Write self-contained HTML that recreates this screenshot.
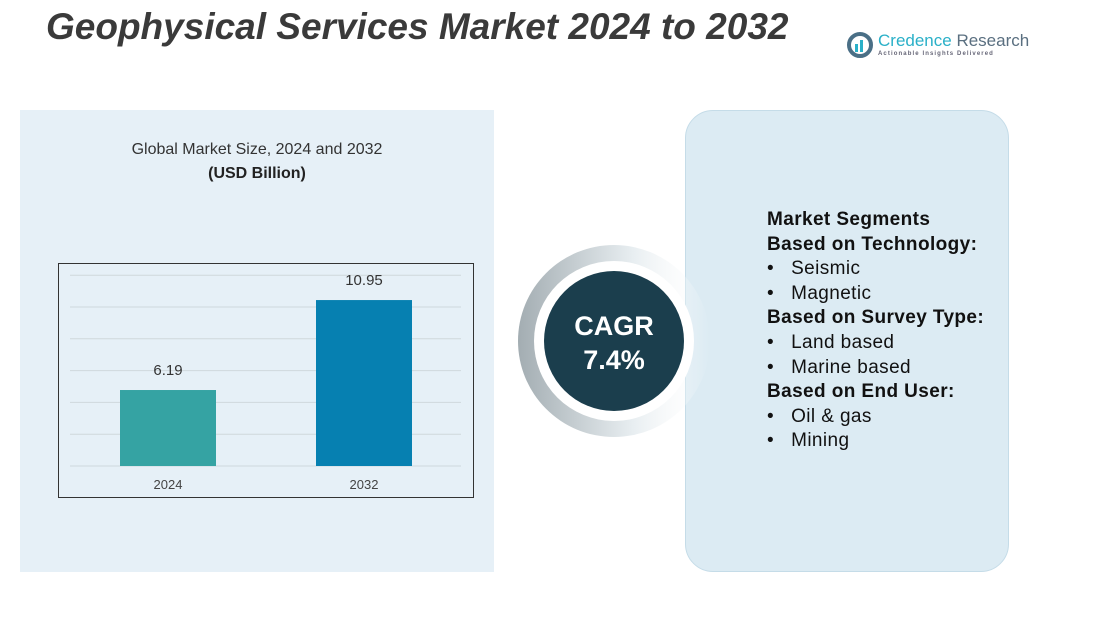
<!DOCTYPE html>
<html><head><meta charset="utf-8"><style>
body{margin:0;width:1105px;height:621px;background:#fff;position:relative;overflow:hidden;font-family:"Liberation Sans",sans-serif}
.abs{position:absolute}
</style></head><body>
<div class="abs" style="left:46px;top:6px;font-size:37px;font-weight:bold;font-style:italic;color:#3a3a3a">Geophysical Services Market 2024 to 2032</div>
<div class="abs" style="left:846px;top:30px;width:190px;height:30px">
<svg width="30" height="30"><circle cx="14" cy="15" r="11" fill="none" stroke="#4a6f86" stroke-width="4"/><rect x="9" y="14" width="3" height="8" fill="#2ab0c8"/><rect x="14" y="10" width="3" height="12" fill="#2ab0c8"/></svg>
<div class="abs" style="left:32px;top:1px;font-size:17px;color:#2ab0c8;white-space:nowrap">Credence <span style="color:#5a6f80">Research</span></div>
<div class="abs" style="left:32px;top:21px;font-size:6px;color:#667;letter-spacing:1.1px;white-space:nowrap;font-weight:bold">Actionable Insights Delivered</div>
</div>
<div class="abs" style="left:20px;top:110px;width:474px;height:462px;background:#e6f0f7"></div>
<div class="abs" style="left:20px;top:141px;width:474px;text-align:center;font-size:16px;color:#333">Global Market Size, 2024 and 2032</div>
<div class="abs" style="left:20px;top:165px;width:474px;text-align:center;font-size:16px;font-weight:bold;color:#222">(USD Billion)</div>
<svg class="abs" id="chart" style="left:0;top:0" width="500" height="520"></svg>
<div class="abs" style="left:685px;top:110px;width:322px;height:460px;background:#dcebf3;border:1px solid #c5dce8;border-radius:28px"></div>
<svg class="abs" style="left:500px;top:230px" width="230" height="230">
<defs><linearGradient id="g" x1="0" x2="1"><stop offset="0" stop-color="#a3adb2"/><stop offset="0.6" stop-color="#e8eef1"/><stop offset="1" stop-color="#fff" stop-opacity="0"/></linearGradient></defs>
<circle cx="114" cy="111" r="96" fill="url(#g)"/>
<circle cx="114" cy="111" r="80" fill="#fff"/>
<circle cx="114" cy="111" r="70" fill="#1b3e4d"/>
<text x="114" y="105" text-anchor="middle" fill="#fff" font-size="27" font-weight="bold" font-family="Liberation Sans">CAGR</text>
<text x="114" y="139" text-anchor="middle" fill="#fff" font-size="27" font-weight="bold" font-family="Liberation Sans">7.4%</text>
</svg>
<div class="abs" style="left:767px;top:208px;font-size:19px;letter-spacing:0.4px;line-height:24.6px;color:#111">
<div style="font-weight:bold">Market Segments</div>
<div style="font-weight:bold">Based on Technology:</div>
<div>•&nbsp;&nbsp; Seismic</div>
<div>•&nbsp;&nbsp; Magnetic</div>
<div style="font-weight:bold">Based on Survey Type:</div>
<div>•&nbsp;&nbsp; Land based</div>
<div>•&nbsp;&nbsp; Marine based</div>
<div style="font-weight:bold">Based on End User:</div>
<div>•&nbsp;&nbsp; Oil &amp; gas</div>
<div>•&nbsp;&nbsp; Mining</div>
</div>
<script>
const categories=["2024","2032"];
const values=[6.19,10.95];
const labels=["6.19","10.95"];
const colors=["#35a3a3","#0680b1"];
const svg=document.getElementById('chart');
const NS="http://www.w3.org/2000/svg";
const base=466, yMin=2.17, pxPer=18.9;
function y(v){return base-(v-yMin)*pxPer;}
function x(i){return 120+i*196;}
function mk(t,a){const e=document.createElementNS(NS,t);for(const k in a)e.setAttribute(k,a[k]);svg.appendChild(e);return e;}
const box=mk('rect',{x:58.5,y:263.5,width:415,height:234,fill:'none',stroke:'#333','stroke-width':1});


for(let k=0;k<7;k++){const gy=base-k*31.8;const l=mk('line',{x1:70,x2:461,y1:gy,y2:gy,stroke:'#cfd8dc','stroke-width':1});

}
values.forEach((v,i)=>{
const r=mk('rect',{x:x(i),y:y(v),width:96,height:base-y(v),fill:colors[i]});


const t=mk('text',{x:x(i)+48,y:y(v)-15,'text-anchor':'middle','font-size':15,fill:'#333','font-family':'Liberation Sans'});t.textContent=labels[i];


const c=mk('text',{x:x(i)+48,y:489,'text-anchor':'middle','font-size':13,fill:'#444','font-family':'Liberation Sans'});c.textContent=categories[i];


});
</script>
</body></html>
